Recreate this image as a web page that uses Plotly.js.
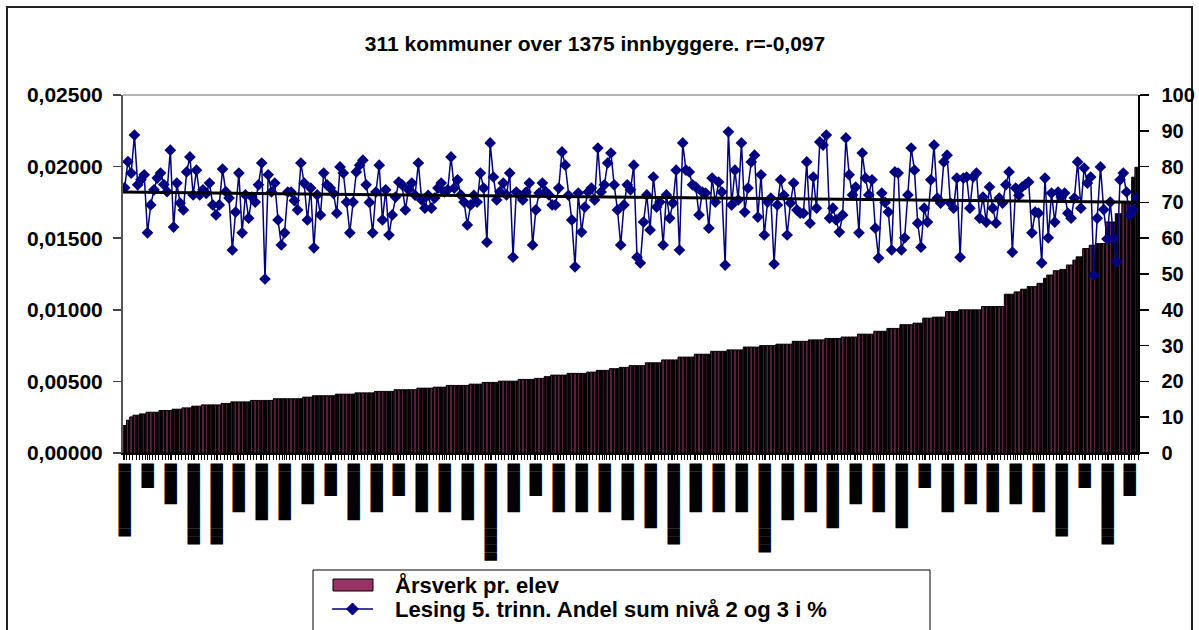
<!DOCTYPE html>
<html><head><meta charset="utf-8">
<script src="https://cdn.plot.ly/plotly-3.0.1.min.js"></script>
<style>html,body{margin:0;padding:0;background:#fff}#chart{width:1199px;height:630px}</style>
</head><body><div id="chart"></div>
<script>
const titleText = "311 kommuner over 1375 innbyggere. r=-0,097";
const barName = "Årsverk pr. elev";
const lineName = "Lesing 5. trinn. Andel sum nivå 2 og 3 i %";
const trendName = "Lineær (Lesing 5. trinn. Andel sum nivå 2 og 3 i %)";

const arsverk = [
0.00192,0.00229,0.00252,0.00264,0.00264,0.00273,0.00273,0.00285,0.00285,0.00285,
0.00285,0.00297,0.00297,0.00297,0.00297,0.00306,0.00306,0.00306,0.00315,0.00315,
0.00315,0.00327,0.00327,0.00327,0.00336,0.00336,0.00336,0.00336,0.00336,0.00336,
0.00346,0.00346,0.00346,0.00357,0.00357,0.00357,0.00357,0.00357,0.00357,0.00367,
0.00367,0.00367,0.00367,0.00367,0.00367,0.00367,0.00379,0.00379,0.00379,0.00379,
0.00379,0.00379,0.00379,0.00379,0.00379,0.0039,0.0039,0.0039,0.0040,0.0040,
0.0040,0.0040,0.0040,0.0040,0.0040,0.00411,0.00411,0.00411,0.00411,0.00411,
0.00411,0.0042,0.0042,0.0042,0.0042,0.0042,0.0042,0.0043,0.0043,0.0043,
0.0043,0.0043,0.0043,0.00442,0.00442,0.00442,0.00442,0.00442,0.00442,0.00442,
0.00453,0.00453,0.00453,0.00453,0.00453,0.0046,0.0046,0.0046,0.0046,0.00472,
0.00472,0.00472,0.00472,0.00472,0.00472,0.00472,0.00481,0.00481,0.00481,0.00481,
0.00493,0.00493,0.00493,0.00493,0.00493,0.00502,0.00502,0.00502,0.00502,0.00502,
0.00502,0.00514,0.00514,0.00514,0.00514,0.00514,0.00521,0.00521,0.00521,0.00533,
0.00533,0.00544,0.00544,0.00544,0.00544,0.00544,0.00556,0.00556,0.00556,0.00556,
0.00556,0.00556,0.00565,0.00565,0.00565,0.00577,0.00577,0.00577,0.00577,0.00589,
0.00589,0.00589,0.00598,0.00598,0.00598,0.0061,0.0061,0.0061,0.0061,0.0061,
0.0063,0.0063,0.0063,0.0063,0.0063,0.0065,0.0065,0.0065,0.0065,0.0065,
0.0067,0.0067,0.0067,0.0067,0.0067,0.0069,0.0069,0.0069,0.0069,0.0069,
0.0071,0.0071,0.0071,0.0071,0.0071,0.0072,0.0072,0.0072,0.0072,0.0072,
0.0074,0.0074,0.0074,0.0074,0.0074,0.0075,0.0075,0.0075,0.0075,0.0075,
0.0076,0.0076,0.0076,0.0076,0.0076,0.0078,0.0078,0.0078,0.0078,0.0078,
0.0079,0.0079,0.0079,0.0079,0.0079,0.0080,0.0080,0.0080,0.0080,0.0080,
0.0081,0.0081,0.0081,0.0081,0.0081,0.0083,0.0083,0.0083,0.0083,0.0083,
0.0085,0.0085,0.0085,0.0085,0.0087,0.0087,0.0087,0.0087,0.00896,0.00896,
0.00896,0.00896,0.00907,0.00907,0.00907,0.00942,0.00942,0.00942,0.00949,0.00949,
0.00949,0.00949,0.00988,0.00988,0.00988,0.00988,0.0100,0.0100,0.0100,0.0100,
0.0100,0.0100,0.0100,0.01023,0.01023,0.01023,0.01023,0.01023,0.01023,0.01023,
0.01109,0.01109,0.01109,0.01125,0.01125,0.01144,0.01144,0.01162,0.01162,0.01162,
0.01185,0.01185,0.0122,0.01243,0.01243,0.01273,0.01273,0.01282,0.01282,0.01313,
0.01313,0.01347,0.0137,0.0137,0.01428,0.01428,0.01451,0.01451,0.01463,0.01463,
0.01463,0.01613,0.01613,0.01613,0.01671,0.01671,0.01752,0.01752,0.01752,0.01926,0.01995
];

const lesing = [
74.1,81.4,78.2,88.8,74.9,76.3,77.7,61.5,69.3,73.5,
76.8,78.2,75.0,73.0,84.6,63.1,75.4,69.8,67.9,78.5,
82.7,72.1,79.0,72.1,73.5,72.5,75.4,69.3,66.5,69.3,
79.3,73.0,71.2,56.7,67.3,78.2,61.5,72.1,65.6,71.5,
70.1,74.9,81.0,48.6,77.7,72.9,75.4,65.1,58.1,61.5,
72.9,72.9,70.5,67.9,81.0,75.4,65.1,74.0,57.3,72.1,
66.5,78.2,74.9,74.0,72.5,67.0,79.9,78.2,70.1,61.5,
70.1,78.5,80.4,81.8,74.9,70.0,61.5,72.9,80.4,65.1,
73.5,60.9,66.5,71.5,75.7,74.9,67.9,73.5,75.4,72.0,
81.0,70.7,68.4,72.0,68.4,71.2,74.0,75.4,72.9,73.5,
82.7,74.0,76.3,72.1,70.1,63.7,69.3,72.0,70.1,78.2,
74.0,58.9,86.6,77.1,70.7,73.0,75.4,72.1,78.2,54.7,
72.9,72.0,70.7,72.9,75.4,58.1,67.9,72.6,75.4,73.0,
72.1,69.3,69.3,74.0,84.1,80.4,72.0,65.1,52.0,72.6,
61.7,68.7,72.9,74.0,70.7,85.2,72.9,74.9,81.0,83.8,
74.9,67.9,58.1,69.3,74.9,73.5,80.4,54.7,53.1,64.5,
72.1,62.3,77.1,68.7,70.1,58.1,72.1,65.6,69.8,79.0,
56.7,86.6,79.0,78.5,74.9,74.3,66.5,72.9,72.6,62.8,
76.8,70.1,75.7,72.9,52.5,89.7,69.3,79.0,70.7,86.6,
67.3,74.0,81.3,83.2,65.9,77.7,60.9,70.1,71.2,52.8,
69.3,76.3,72.0,60.9,69.8,75.4,67.9,67.0,67.0,81.3,
64.2,77.1,68.4,86.9,86.0,88.8,65.6,68.4,65.1,61.7,
66.5,88.0,77.7,72.1,74.3,61.5,83.8,76.8,72.1,76.3,
62.8,54.5,72.6,70.0,67.3,56.7,78.5,78.2,56.7,60.1,
72.1,85.2,79.0,64.2,57.5,68.4,64.5,76.3,86.0,71.2,
69.8,81.3,83.2,69.8,68.4,76.8,54.7,76.8,77.1,68.4,
77.1,78.2,65.6,71.5,64.5,74.3,68.4,64.2,71.2,69.8,
74.9,78.5,56.1,74.0,72.0,74.3,75.0,75.7,61.5,67.3,
67.0,53.1,76.8,60.1,72.6,64.5,72.9,71.5,72.6,67.0,
65.6,71.2,81.3,68.4,79.6,75.4,77.1,49.7,65.6,79.9,
68.0,59.8,70.1,60.0,53.4,76.3,78.2,72.9,66.5,68.0,71.2
];

// category labels (municipality names, illegible in the original: drawn as solid blocks)
const labelEvery = 7;
const labelLengths = [9,3,5,10,10,6,7,7,5,4,7,6,4,6,6,7,12,6,4,6,6,6,7,8,10,6,6,6,11,7,6,8,5,6,8,3,6,5,6,5,6,9,3,10,4];

const n = arsverk.length;
const cats = arsverk.map((_, i) => i + 1);
const tickVals = labelLengths.map((_, k) => 1 + k * labelEvery);
const tickText = labelLengths.map(L => '\u2588'.repeat(L));

// linear trendline (least squares on category index)
let sx=0, sy=0, sxx=0, sxy=0;
for (let i=0;i<n;i++){ const x=cats[i], y=lesing[i]; sx+=x; sy+=y; sxx+=x*x; sxy+=x*y; }
const slope = (n*sxy - sx*sy)/(n*sxx - sx*sx);
const icpt = (sy - slope*sx)/n;
const trendX = [cats[0]-0.5, cats[n-1]+0.5];
const trendY = trendX.map(x => icpt + slope*x);

const FONT = 'Liberation Sans, Arial, sans-serif';
const BAR_COLOR = '#993366', LINE_COLOR = '#000080';

const traces = [
  {type:'bar', name:barName, x:cats, y:arsverk, yaxis:'y',
   marker:{color:BAR_COLOR, line:{color:'#000', width:1},
           pattern:{shape:'|', fgcolor:'#000', bgcolor:BAR_COLOR, size:4, solidity:0.7}},
   hoverinfo:'skip'},
  {type:'scatter', mode:'lines+markers', name:lineName, x:cats, y:lesing, yaxis:'y2',
   line:{color:LINE_COLOR, width:1.5}, marker:{symbol:'diamond', size:9, color:LINE_COLOR}},
  {type:'scatter', mode:'lines', name:trendName, x:trendX, y:trendY, yaxis:'y2',
   line:{color:'#000', width:3}}
];

const L=123, R=1138, T=95, B=453, W=1199, H=630;
const pw=R-L, ph=B-T;
const px = v => (v-L)/pw;          // page pixel -> paper x
const py = v => (B-v)/ph;          // page pixel -> paper y

// hand-built legend (box, symbols, texts) placed like the original
const legTexts = [barName, lineName, trendName];
const legRowY = [585, 609, 640];
const legendShapes = [
  {type:'rect', xref:'paper', yref:'paper', x0:px(313), x1:px(930), y0:py(700), y1:py(570),
   line:{color:'#000', width:1}, fillcolor:'#fff'},
  {type:'rect', xref:'paper', yref:'paper', x0:px(333), x1:px(373), y0:py(591), y1:py(579),
   line:{color:'#000', width:1}, fillcolor:BAR_COLOR},
  {type:'line', xref:'paper', yref:'paper', x0:px(332), x1:px(373), y0:py(legRowY[1]), y1:py(legRowY[1]),
   line:{color:LINE_COLOR, width:1.5}},
  {type:'path', xref:'paper', yref:'paper',
   path:`M ${px(352.5)} ${py(legRowY[1]-6)} L ${px(358.5)} ${py(legRowY[1])} L ${px(352.5)} ${py(legRowY[1]+6)} L ${px(346.5)} ${py(legRowY[1])} Z`,
   line:{color:LINE_COLOR, width:1}, fillcolor:LINE_COLOR},
  {type:'line', xref:'paper', yref:'paper', x0:px(332), x1:px(373), y0:py(legRowY[2]), y1:py(legRowY[2]),
   line:{color:'#000', width:3}}
];
const legendAnnots = legTexts.map((t, k) => ({
  text:t, xref:'paper', yref:'paper', x:px(393), y:py(legRowY[k]), xanchor:'left', yanchor:'middle',
  showarrow:false, font:{family:FONT, size:22, weight:'bold', color:'#000'}
}));

const layout = {
  width:W, height:H,
  margin:{l:L, r:W-R, t:T, b:H-B, autoexpand:false},
  paper_bgcolor:'#fff', plot_bgcolor:'#fff',
  separators:', ',
  font:{family:FONT, color:'#000'},
  showlegend:false,
  bargap:0.1,
  title:{text:titleText, font:{family:FONT, size:21, weight:'bold', color:'#000'},
         x:595/W, xref:'container', xanchor:'center', y:1-44/H, yref:'container', yanchor:'middle'},
  xaxis:{range:[0.5, n+0.5], tickmode:'array', tickvals:tickVals, ticktext:tickText,
         tickangle:90, tickfont:{family:'DejaVu Sans', size:10.5, color:'#000'},
         ticks:'outside', ticklen:5, tickcolor:'#000', showgrid:false, zeroline:false,
         showline:true, linecolor:'#000', linewidth:1.5, ticklabelstandoff:2,
         minor:{tickmode:'linear', tick0:0.5, dtick:1, ticks:'outside', ticklen:5, tickcolor:'#000', showgrid:false}},
  yaxis:{range:[0,0.025], dtick:0.005, tick0:0, tickformat:'.5f',
         tickfont:{family:FONT, size:21, weight:'bold', color:'#000'},
         ticks:'outside', ticklen:8, tickcolor:'#444', tickwidth:1.5, ticklabelstandoff:6,
         showgrid:false, zeroline:false, showline:true, linecolor:'#555', linewidth:2},
  yaxis2:{range:[0,100], dtick:10, tick0:0, overlaying:'y', side:'right',
          tickfont:{family:FONT, size:20, weight:'bold', color:'#000'},
          ticks:'outside', ticklen:9, tickcolor:'#000', tickwidth:1.5, ticklabelstandoff:9,
          showgrid:false, zeroline:false, showline:true, linecolor:'#000', linewidth:1.5},
  annotations: legendAnnots,
  shapes:[
    {type:'line', xref:'paper', yref:'paper', x0:0, x1:1, y0:1, y1:1, line:{color:'#999', width:1.5}},
    {type:'rect', xref:'paper', yref:'paper', x0:px(7), x1:px(1192), y0:py(720), y1:py(7),
     line:{color:'#222', width:2}, fillcolor:'rgba(0,0,0,0)', layer:'below'}
  ].concat(legendShapes)
};

Plotly.newPlot('chart', traces, layout, {staticPlot:true});
</script></body></html>
